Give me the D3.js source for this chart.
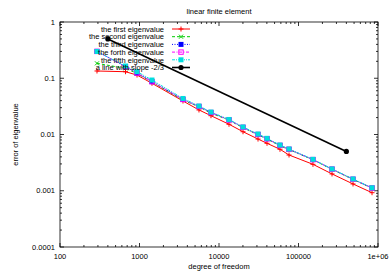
<!DOCTYPE html>
<html><head><meta charset="utf-8">
<script src="https://cdn.jsdelivr.net/npm/d3@7/dist/d3.min.js"></script>
<style>body{margin:0;background:#fff}svg{display:block}text{font-family:"Liberation Sans",Arial,sans-serif;font-size:7.5px;fill:#000}</style>
</head><body>
<script>
const dof = [292, 667, 931, 1435, 3524, 5600, 7925, 13360, 20040, 30970, 40180, 58500, 76000, 152000, 264000, 485000, 841000];
const firstEig  = [0.1346, 0.1306, 0.114, 0.0813, 0.0394, 0.0273, 0.0216, 0.0152, 0.0112, 0.0083, 0.00698, 0.00546, 0.00432, 0.00295, 0.00199, 0.00132, 0.000923];
const secondEig = [0.184, 0.15, 0.122, 0.086, 0.041, 0.031, 0.024, 0.018, 0.0132, 0.0099, 0.0083, 0.0063, 0.0054, 0.00355, 0.0024, 0.00159, 0.00111];
const thirdEig  = [0.30, 0.16, 0.124, 0.087, 0.042, 0.0315, 0.0246, 0.0182, 0.0134, 0.0100, 0.0084, 0.0064, 0.00545, 0.00358, 0.00242, 0.0016, 0.00112];
const fourthEig = [0.30, 0.16, 0.124, 0.087, 0.042, 0.0315, 0.0246, 0.0182, 0.0134, 0.0100, 0.0084, 0.0064, 0.00545, 0.00358, 0.00242, 0.0016, 0.00112];
const fifthEig  = [0.299, 0.165, 0.131, 0.093, 0.0437, 0.0321, 0.0251, 0.0185, 0.0136, 0.0102, 0.00855, 0.0065, 0.00552, 0.00362, 0.00244, 0.00162, 0.00113];
const slopeX = [400, 400000];
const slopeY = [0.5, 0.005];
const xTicks = [100, 1000, 10000, 100000, 1000000];
const xTickLabels = ["100", "1000", "10000", "100000", "1e+06"];
const yTicks = [1, 0.1, 0.01, 0.001, 0.0001];
const yTickLabels = ["1", "0.1", "0.01", "0.001", "0.0001"];
const seriesNames = ["the first eigenvalue", "the second eigenvalue", "the third eigenvalue", "the forth eigenvalue", "the fifth eigenvalue", "a line with slope -2/3"];

const W = 389, H = 273;
const L = 60, R = 378, T = 22, B = 247;
const svg = d3.select("body").append("svg").attr("width", W).attr("height", H);
const x = d3.scaleLog().domain([100, 1e6]).range([L, R]);
const y = d3.scaleLog().domain([0.0001, 1]).range([B, T]);

// minor ticks
const minorX = [], minorY = [];
for (let d = 100; d < 1e6; d *= 10) for (let k = 2; k <= 9; k++) minorX.push(d * k);
for (let d = 0.0001; d < 0.99; d *= 10) for (let k = 2; k <= 9; k++) minorY.push(d * k);
const tk = svg.append("g").attr("stroke", "#000").attr("stroke-width", 0.8);
xTicks.forEach(v => {
  tk.append("line").attr("x1", x(v)).attr("x2", x(v)).attr("y1", B).attr("y2", B - 4);
  tk.append("line").attr("x1", x(v)).attr("x2", x(v)).attr("y1", T).attr("y2", T + 4);
});
minorX.forEach(v => {
  tk.append("line").attr("x1", x(v)).attr("x2", x(v)).attr("y1", B).attr("y2", B - 2);
  tk.append("line").attr("x1", x(v)).attr("x2", x(v)).attr("y1", T).attr("y2", T + 2);
});
yTicks.forEach(v => {
  tk.append("line").attr("x1", L).attr("x2", L + 4).attr("y1", y(v)).attr("y2", y(v));
  tk.append("line").attr("x1", R).attr("x2", R - 4).attr("y1", y(v)).attr("y2", y(v));
});
minorY.forEach(v => {
  tk.append("line").attr("x1", L).attr("x2", L + 2).attr("y1", y(v)).attr("y2", y(v));
  tk.append("line").attr("x1", R).attr("x2", R - 2).attr("y1", y(v)).attr("y2", y(v));
});
svg.append("rect").attr("x", L).attr("y", T).attr("width", R - L).attr("height", B - T)
  .attr("fill", "none").attr("stroke", "#000").attr("stroke-width", 0.8);

xTicks.forEach((v, i) => svg.append("text").attr("x", x(v)).attr("y", B + 12).attr("text-anchor", "middle").text(xTickLabels[i]));
yTicks.forEach((v, i) => svg.append("text").attr("x", L - 5).attr("y", y(v) + 2.7).attr("text-anchor", "end").text(yTickLabels[i]));

svg.append("text").attr("x", (L + R) / 2).attr("y", 14).attr("text-anchor", "middle").text("linear finite element");
svg.append("text").attr("x", (L + R) / 2).attr("y", 269).attr("text-anchor", "middle").text("degree of freedom");
svg.append("text").attr("transform", `translate(18,${(T + B) / 2}) rotate(-90)`).attr("text-anchor", "middle").text("error of eigenvalue");

const series = [
  {vals: firstEig, color: "#ff0000", dash: null, marker: "plus"},
  {vals: secondEig, color: "#00cc00", dash: "3,2", marker: "cross"},
  {vals: thirdEig, color: "#0000ff", dash: "1,1.5", marker: "fsquare"},
  {vals: fourthEig, color: "#ff00ff", dash: "3,1.5,1,1.5", marker: "osquare"},
  {vals: fifthEig, color: "#00dddd", dash: "3,1,1,1,1,1", marker: "fsquare"}
];

function drawMarker(g, type, cx, cy, color) {
  if (type === "plus") {
    g.append("path").attr("d", `M${cx-2.5},${cy}H${cx+2.5}M${cx},${cy-2.5}V${cy+2.5}`).attr("stroke", color).attr("stroke-width", 1);
  } else if (type === "cross") {
    g.append("path").attr("d", `M${cx-2},${cy-2}L${cx+2},${cy+2}M${cx-2},${cy+2}L${cx+2},${cy-2}`).attr("stroke", color).attr("stroke-width", 1);
  } else if (type === "fsquare") {
    g.append("rect").attr("x", cx - 2.5).attr("y", cy - 2.5).attr("width", 5).attr("height", 5).attr("fill", color);
  } else if (type === "osquare") {
    g.append("rect").attr("x", cx - 2.2).attr("y", cy - 2.2).attr("width", 4.4).attr("height", 4.4).attr("fill", "none").attr("stroke", color).attr("stroke-width", 1);
  } else if (type === "circle") {
    g.append("circle").attr("cx", cx).attr("cy", cy).attr("r", 2.6).attr("fill", color);
  }
}

const line = d3.line().x(d => x(d[0])).y(d => y(d[1]));
const plot = svg.append("g");
series.forEach(s => {
  const pts = dof.map((d, i) => [d, s.vals[i]]);
  plot.append("path").attr("d", line(pts)).attr("fill", "none").attr("stroke", s.color).attr("stroke-width", 1)
    .attr("stroke-dasharray", s.dash);
  pts.forEach(p => drawMarker(plot, s.marker, x(p[0]), y(p[1]), s.color));
});
const sp = slopeX.map((d, i) => [d, slopeY[i]]);
plot.append("path").attr("d", line(sp)).attr("fill", "none").attr("stroke", "#000").attr("stroke-width", 1.6);
sp.forEach(p => drawMarker(plot, "circle", x(p[0]), y(p[1]), "#000"));

// legend
const legendStyles = series.map(s => ({color: s.color, dash: s.dash, marker: s.marker, w: 1}))
  .concat([{color: "#000", dash: null, marker: "circle", w: 1.6}]);
const lg = svg.append("g");
seriesNames.forEach((n, i) => {
  const ly = 29 + i * 7.7;
  lg.append("text").attr("x", 164).attr("y", ly + 2.7).attr("text-anchor", "end").text(n);
  const st = legendStyles[i];
  lg.append("line").attr("x1", 172).attr("x2", 190).attr("y1", ly).attr("y2", ly)
    .attr("stroke", st.color).attr("stroke-width", st.w).attr("stroke-dasharray", st.dash);
  drawMarker(lg, st.marker, 181, ly, st.color);
});
</script>
</body></html>
